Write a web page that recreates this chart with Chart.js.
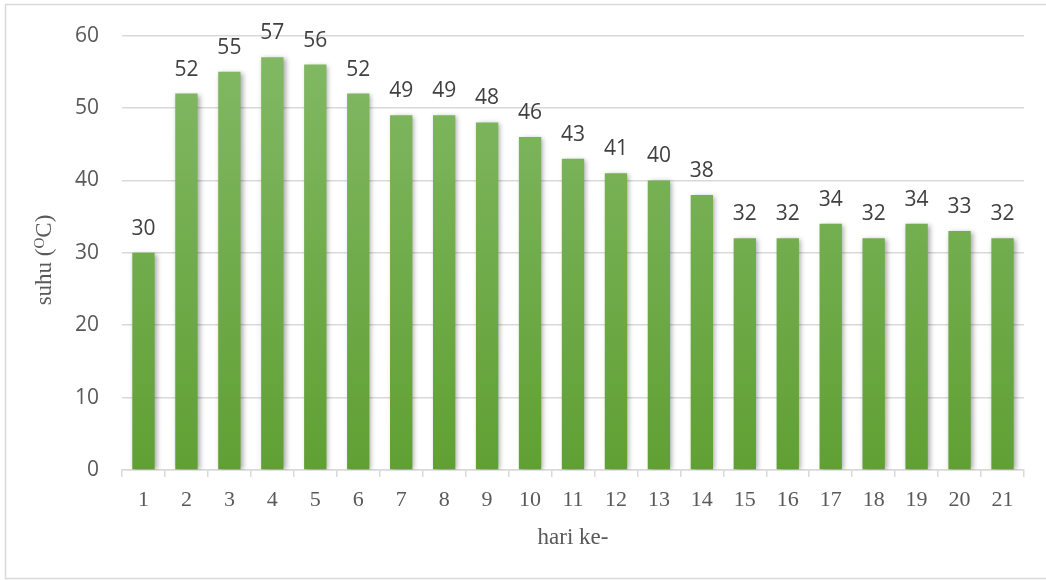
<!DOCTYPE html>
<html>
<head>
<meta charset="utf-8">
<script src="https://cdn.jsdelivr.net/npm/chart.js@4"></script>
<style>
  html, body { margin: 0; padding: 0; background: #ffffff; }
  #wrap { width: 1046px; height: 580px; position: relative; }
</style>
</head>
<body>
<div id="wrap"><canvas id="c" width="1046" height="580"></canvas></div>
<script>
// Daily temperature readings (day 1..21)
const days = ['1','2','3','4','5','6','7','8','9','10','11','12','13','14','15','16','17','18','19','20','21'];
const temperatures = [30, 52, 55, 57, 56, 52, 49, 49, 48, 46, 43, 41, 40, 38, 32, 32, 34, 32, 34, 33, 32];
const yTicks = [0, 10, 20, 30, 40, 50, 60];
const xTitle = 'hari ke-';
const yTitleParts = ['suhu (', 'O', 'C)'];

const SANS = '"Open Sans", "Liberation Sans", sans-serif';
const SERIF = '"Liberation Serif", "DejaVu Serif", serif';

// Vertical green gradient for the bars
function barGradient(ctx) {
  const chart = ctx.chart;
  const area = chart.chartArea;
  if (!area) return '#70ad47';
  const y = chart.scales.y;
  const g = chart.ctx.createLinearGradient(0, y.getPixelForValue(60), 0, y.getPixelForValue(0));
  g.addColorStop(0, '#83b966');
  g.addColorStop(1, '#60a033');
  return g;
}

// Frame, shadows, value labels and axis titles
const decorations = {
  id: 'decorations',
  beforeDraw(chart) {
    const c = chart.ctx;
    c.save();
    c.fillStyle = '#ffffff';
    c.fillRect(0, 0, chart.width, chart.height);
    c.strokeStyle = '#d9d9d9';
    c.lineWidth = 1.5;
    c.strokeRect(5.5, 4.5, 1050, 574);
    c.restore();
  },
  beforeDatasetsDraw(chart) {
    const c = chart.ctx;
    c.save();
    c.shadowColor = 'rgba(0,0,0,0.35)';
    c.shadowBlur = 5;
    c.shadowOffsetX = 2;
    c.shadowOffsetY = 1;
  },
  afterDatasetsDraw(chart) {
    const c = chart.ctx;
    c.restore();
    const meta = chart.getDatasetMeta(0);
    c.save();
    c.font = '21px ' + SANS;
    c.fillStyle = '#404040';
    c.textAlign = 'center';
    c.textBaseline = 'alphabetic';
    meta.data.forEach((bar, i) => {
      c.fillText(String(temperatures[i]), bar.x, bar.y - 18);
    });
    c.restore();
  },
  afterDraw(chart) {
    const c = chart.ctx;
    const area = chart.chartArea;
    c.save();
    c.fillStyle = '#595959';
    // x axis title
    c.font = '23px ' + SERIF;
    c.textAlign = 'center';
    c.textBaseline = 'alphabetic';
    c.fillText(xTitle, (area.left + area.right) / 2, 544);
    // y axis title with superscript O
    c.translate(51, 260);
    c.rotate(-Math.PI / 2);
    c.textAlign = 'left';
    const big = '23px ' + SERIF, small = '15px ' + SERIF;
    c.font = big;
    const w0 = c.measureText(yTitleParts[0]).width;
    c.font = small;
    const w1 = c.measureText(yTitleParts[1]).width;
    c.font = big;
    const w2 = c.measureText(yTitleParts[2]).width;
    let x = -(w0 + w1 + w2) / 2;
    c.fillText(yTitleParts[0], x, 0);
    x += w0;
    c.font = small;
    c.fillText(yTitleParts[1], x, -7);
    x += w1;
    c.font = big;
    c.fillText(yTitleParts[2], x, 0);
    c.restore();
  }
};

new Chart(document.getElementById('c'), {
  type: 'bar',
  data: {
    labels: days,
    datasets: [{
      data: temperatures,
      backgroundColor: barGradient,
      borderWidth: 0,
      barPercentage: 0.52,
      categoryPercentage: 1.0
    }]
  },
  options: {
    responsive: false,
    animation: false,
    devicePixelRatio: 1,
    layout: { padding: { top: 34, right: 22, bottom: 0, left: 0 } },
    plugins: { legend: { display: false }, tooltip: { enabled: false } },
    scales: {
      x: {
        afterFit(scale) { scale.height = 110; },
        grid: {
          offset: true,
          drawOnChartArea: false,
          drawTicks: true,
          tickLength: 7,
          color: '#d9d9d9',
          lineWidth: 1.5
        },
        border: { display: true, color: '#d9d9d9', width: 1.5 },
        ticks: {
          color: '#595959',
          font: { family: SERIF, size: 22 },
          padding: 10,
          maxRotation: 0,
          autoSkip: false
        }
      },
      y: {
        min: 0,
        max: 60,
        afterFit(scale) { scale.width = 122; },
        afterBuildTicks(scale) { scale.ticks = yTicks.map(v => ({ value: v })); },
        grid: { drawTicks: false, color: '#d9d9d9', lineWidth: 1.5 },
        border: { display: false },
        ticks: {
          color: '#595959',
          font: { family: SANS, size: 21 },
          padding: 23
        }
      }
    }
  },
  plugins: [decorations]
});
</script>
</body>
</html>
